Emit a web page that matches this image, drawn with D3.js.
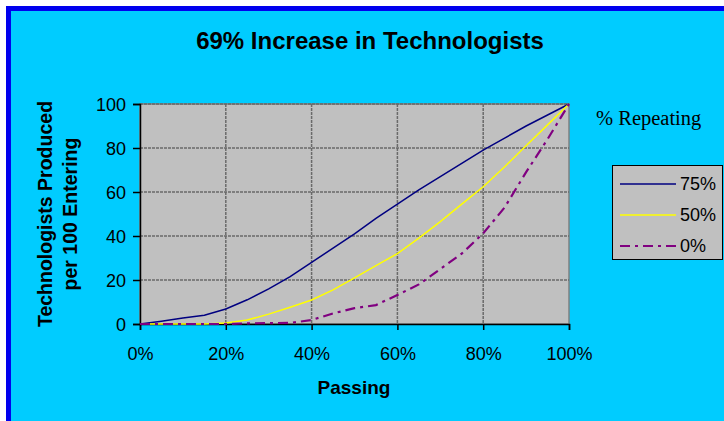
<!DOCTYPE html>
<html>
<head>
<meta charset="utf-8">
<script src="https://cdn.jsdelivr.net/npm/d3@7"></script>
<style>
  html, body { margin: 0; padding: 0; background: #ffffff; }
  svg { display: block; }
  text { font-family: "Liberation Sans", Arial, sans-serif; }
</style>
</head>
<body>
<script>
// Share passing (percent) at which each curve is sampled
const passing = [0, 5, 10, 15, 20, 25, 30, 35, 40, 45, 50, 55, 60, 65, 70, 75, 80, 85, 90, 95, 100];

// Technologists produced per 100 entering, by share repeating
const repeat75 = [0, 1.3, 2.7, 4, 6.8, 11, 16, 21.5, 28, 34.5, 41, 48, 54.5, 61, 67, 73, 79, 84.5, 90, 95, 100];
const repeat50 = [0, 0, 0, 0, 0.5, 1.8, 4.5, 7.6, 10.9, 15.5, 21, 26.5, 32, 39, 46.5, 54.5, 62.4, 71.5, 81, 90.5, 100];
const repeat0  = [0, 0, 0, 0, 0, 0.3, 0.4, 0.5, 1.8, 4.8, 7.2, 8.6, 13.2, 18, 25, 32, 41.2, 53, 69, 84, 100];

const seriesNames  = ["75%", "50%", "0%"];
const seriesValues = [repeat75, repeat50, repeat0];
const seriesColors = ["#000080", "#ffff00", "#800080"];
const seriesDashes = [null, null, "10,5,3,5"];
const seriesWidths = [1.5, 1.5, 2.2];

const xTicks = [0, 20, 40, 60, 80, 100];
const yTicks = [0, 20, 40, 60, 80, 100];

const W = 724, H = 421;
const plot = { left: 140, right: 569, top: 104, bottom: 324 };

const svg = d3.select("body").append("svg").attr("width", W).attr("height", H);

// chart frame
svg.append("rect").attr("x", 0).attr("y", 0).attr("width", W).attr("height", H).attr("fill", "#ffffff");
svg.append("rect").attr("x", 8.5).attr("y", 8.5).attr("width", W + 20).attr("height", H + 20)
  .attr("fill", "#00ccff").attr("stroke", "#0000ee").attr("stroke-width", 5);

const x = d3.scaleLinear().domain([0, 100]).range([plot.left, plot.right]);
const y = d3.scaleLinear().domain([0, 100]).range([plot.bottom, plot.top]);

// plot background
svg.append("rect").attr("x", plot.left).attr("y", plot.top)
  .attr("width", plot.right - plot.left).attr("height", plot.bottom - plot.top)
  .attr("fill", "#c0c0c0").attr("stroke", "#808080").attr("stroke-width", 1.5);

// gridlines
const grid = svg.append("g");
grid.selectAll(".gx").data(xTicks.slice(1, -1)).join("line")
  .attr("x1", d => x(d)).attr("x2", d => x(d)).attr("y1", plot.top).attr("y2", plot.bottom)
  .attr("stroke", "#6a6a6a").attr("stroke-width", 1.5).attr("stroke-dasharray", "3,1");
grid.selectAll(".gy").data(yTicks.slice(1)).join("line")
  .attr("x1", plot.left).attr("x2", plot.right).attr("y1", d => y(d)).attr("y2", d => y(d))
  .attr("stroke", "#6a6a6a").attr("stroke-width", 1.5).attr("stroke-dasharray", "3,1");

// axes
const xAxis = svg.append("g").attr("transform", `translate(0,${plot.bottom})`)
  .call(d3.axisBottom(x).tickValues(xTicks).tickFormat(d => d + "%").tickSize(6).tickPadding(17));
const yAxis = svg.append("g").attr("transform", `translate(${plot.left},0)`)
  .call(d3.axisLeft(y).tickValues(yTicks).tickSize(7).tickPadding(7));
[xAxis, yAxis].forEach(a => {
  a.select(".domain").attr("stroke", "#000").attr("stroke-width", 1.5);
  a.selectAll(".tick line").attr("stroke", "#000").attr("stroke-width", 1.5);
  a.selectAll(".tick text").attr("fill", "#000").style("font-size", "18px")
    .style("font-family", "'Liberation Sans', Arial, sans-serif");
});
yAxis.selectAll(".tick text").attr("dy", "0.36em");

// series lines
const line = d3.line().x((d, i) => x(passing[i])).y(d => y(d));
svg.append("g").selectAll("path").data(seriesValues).join("path")
  .attr("d", d => line(d))
  .attr("fill", "none")
  .attr("stroke", (d, i) => seriesColors[i])
  .attr("stroke-width", (d, i) => seriesWidths[i])
  .attr("stroke-dasharray", (d, i) => seriesDashes[i]);

// title
svg.append("text").attr("x", 370).attr("y", 49).attr("text-anchor", "middle")
  .style("font-size", "24px").style("font-weight", "bold").text("69% Increase in Technologists");

// x axis title
svg.append("text").attr("x", 354).attr("y", 394).attr("text-anchor", "middle")
  .style("font-size", "19px").style("font-weight", "bold").text("Passing");

// y axis title (two lines)
const yTitle = svg.append("text").attr("transform", "translate(0,214) rotate(-90)")
  .attr("text-anchor", "middle").style("font-size", "19.5px").style("font-weight", "bold");
yTitle.append("tspan").attr("x", 0).attr("y", 52).text("Technologists Produced");
yTitle.append("tspan").attr("x", 0).attr("y", 77).text("per 100 Entering");

// legend
svg.append("text").attr("x", 596).attr("y", 125)
  .style("font-family", "'Liberation Serif', 'Times New Roman', serif").style("font-size", "20.5px")
  .text("% Repeating");
const legend = svg.append("g");
legend.append("rect").attr("x", 612.5).attr("y", 165.5).attr("width", 110).attr("height", 94)
  .attr("fill", "#c0c0c0").attr("stroke", "#000").attr("stroke-width", 1);
const rows = legend.selectAll(".row").data(seriesNames).join("g")
  .attr("transform", (d, i) => `translate(0,${184 + i * 31})`);
rows.append("line").attr("x1", 620).attr("x2", 676).attr("y1", 0).attr("y2", 0)
  .attr("stroke", (d, i) => seriesColors[i])
  .attr("stroke-width", (d, i) => seriesWidths[i])
  .attr("stroke-dasharray", (d, i) => seriesDashes[i]);
rows.append("text").attr("x", 680).attr("y", 0).attr("dy", "0.36em")
  .style("font-size", "18px").text(d => d);
</script>
</body>
</html>
